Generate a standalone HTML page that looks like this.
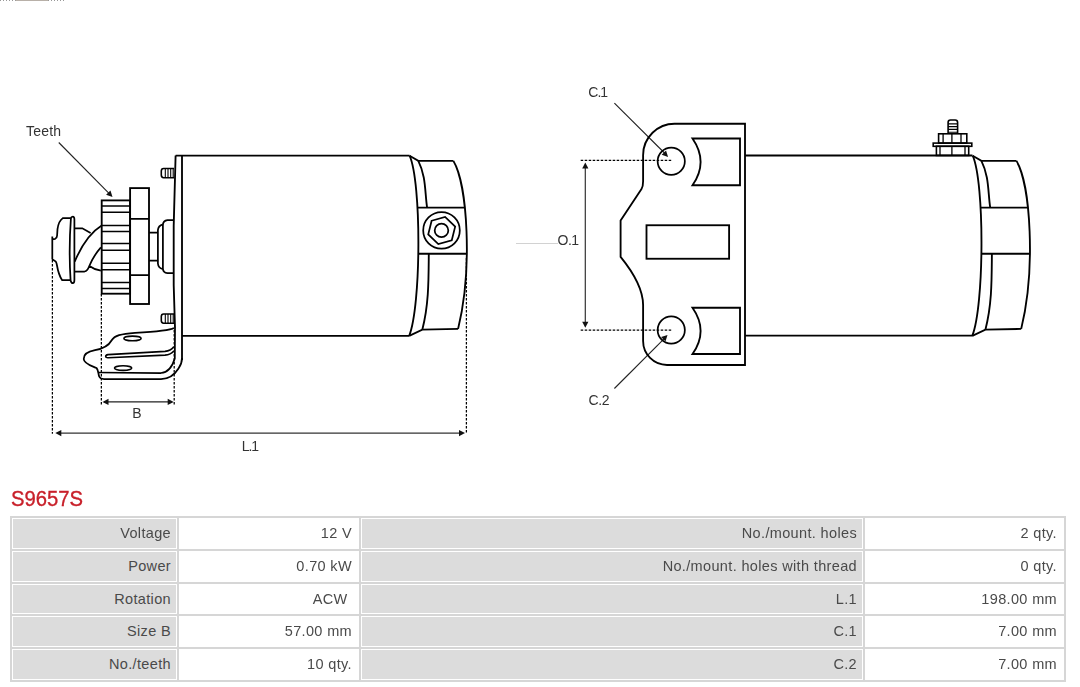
<!DOCTYPE html>
<html><head><meta charset="utf-8">
<style>
html,body{margin:0;padding:0;background:#fff;width:1080px;height:687px;overflow:hidden;position:relative}
#wrap{position:absolute;left:0;top:0;width:1080px;height:687px;opacity:0.999}
svg{position:absolute;left:0;top:0}
.lbl{font-family:"Liberation Sans",sans-serif;font-size:14px;fill:#333}
.title{position:absolute;left:10.6px;top:486px;-webkit-text-stroke:0.35px #c8202a;font-family:"Liberation Sans",sans-serif;font-size:22.5px;line-height:26px;color:#c8202a;white-space:nowrap;transform:scaleX(0.9);transform-origin:0 0}
.tbg{position:absolute;left:10px;top:516px;width:1056px;height:166px;background:#d6d6d6}
.c{position:absolute;border:1px solid #fff;box-sizing:content-box;font-family:"Liberation Sans",sans-serif;font-size:14.5px;color:#4a4a4a;text-align:right;padding:0 6px 0 0;box-sizing:border-box;white-space:nowrap;letter-spacing:0.35px}
.lab{padding-right:5px}
.lab{background:#dcdcdc}
.val{background:#fff}
</style></head><body><div id="wrap">
<svg width="1080" height="687" viewBox="0 0 1080 687">
<text x="26" y="136" class="lbl" style="font-size:14px;letter-spacing:0.2px">Teeth</text>
<line x1="58.75" y1="142.5" x2="109" y2="193.3" stroke="#222" stroke-width="1.1"/>
<polygon points="112.50,196.90 106.08,194.81 110.49,190.45" fill="#111"/>
<rect x="101.7" y="200.4" width="28.4" height="93.3" stroke="#000" fill="none" stroke-width="1.85"/>
<path d="M101.7,205.9 H130 M101.7,212.3 H130 M101.7,225.4 H130 M101.7,231.4 H130 M101.7,243.5 H130 M101.7,250.2 H130 M101.7,263.3 H130 M101.7,269.75 H130 M101.7,282.4 H130 M101.7,288.5 H130" stroke="#000" fill="none" stroke-width="1.5"/>
<rect x="130.1" y="188.1" width="18.9" height="115.9" stroke="#000" fill="none" stroke-width="1.85"/>
<path d="M130,218.75 H149 M130,275 H149" stroke="#000" fill="none" stroke-width="1.75"/>
<path d="M149,232.6 H157.9 M149,260.6 H157.9" stroke="#000" fill="none" stroke-width="1.75"/>
<path d="M162.9,224.3 Q158.3,225.5 157.9,230 V263.5 Q158.3,268 162.9,269.2" stroke="#000" fill="none" stroke-width="1.75"/>
<path d="M173.6,220.2 H167.5 Q163,220.8 162.9,225 V268.5 Q163,272.6 167.5,273.2 H173.6" stroke="#000" fill="none" stroke-width="1.75"/>
<path d="M52.3,236.5 V259.5 M52.3,239.4 L55.2,238.8 Q57,238 57.1,235.5 L57.5,229.2 Q58.6,221 62.8,218.15 L70.9,218.15 M52.3,259.3 L55.8,261.6 Q56.6,263 57,265.5 Q58.6,275 62.2,280.2 L70.6,280.2" stroke="#000" fill="none" stroke-width="1.75"/>
<path d="M70.9,218.5 Q68.6,249.5 70.6,280.5 Q71.3,283.2 72.8,283.2 Q74.4,283 74.4,280 V219.5 Q74.4,216.7 72.8,216.7 Q71.2,216.7 70.9,218.5 Z" stroke="#000" fill="none" stroke-width="1.75"/>
<path d="M74.7,228.3 H82.3 L90.6,233 M74.7,261.6 Q86,235.2 101.7,225.6 M74.7,271.5 H84.6 Q87.5,271 89.3,266 Q94,255 100.9,247.3 M89.3,266 Q94,269.5 100.9,270.6" stroke="#000" fill="none" stroke-width="1.75"/>
<path d="M174,168.5 H163.6 Q161.3,168.5 161.3,171.1 V175.1 Q161.3,177.7 163.6,177.7 H174" stroke="#000" fill="none" stroke-width="1.6"/>
<path d="M165.3,168.5 V177.7 M168.0,168.5 V177.7 M170.7,168.5 V177.7 M173.2,168.5 V177.7" stroke="#000" fill="none" stroke-width="1.1"/>
<path d="M174,314.0 H163.6 Q161.3,314.0 161.3,316.6 V320.6 Q161.3,323.2 163.6,323.2 H174" stroke="#000" fill="none" stroke-width="1.6"/>
<path d="M165.3,314.0 V323.2 M168.0,314.0 V323.2 M170.7,314.0 V323.2 M173.2,314.0 V323.2" stroke="#000" fill="none" stroke-width="1.1"/>
<path d="M175.6,155.6 H409.6 M182,335.8 H409.2" stroke="#000" fill="none" stroke-width="1.85"/>
<path d="M175.6,155.6 L173.7,226 V285 L175,328" stroke="#000" fill="none" stroke-width="1.85"/>
<path d="M182,155.6 V360" stroke="#000" fill="none" stroke-width="1.85"/>
<path d="M174,328 C170,330.5 150,332 135,332.8 C121,333.8 114.5,335.5 111.5,340.5 C108.5,346 104,348.5 95,350.2 C87,351.6 83.6,354.5 83.7,359 C84,364 92,366 96.5,368 C98.5,369.8 98.2,374 99.2,376.5 C100,378.6 101.5,379 104,379 L161,379 C168,379 174.5,375 178.5,368.5 C181,365 182,362 182,358" stroke="#000" fill="none" stroke-width="1.75"/>
<path d="M98.2,372.5 L161,373 C167,372.6 172.2,367 174.8,358.5 L175,328" stroke="#000" fill="none" stroke-width="1.75"/>
<path d="M173.8,346.8 C171.5,349.8 169,351 165,351.4 L108,354.6 C104.8,355.1 105,358 108.2,357.7 L165,355.1 C169,354.8 172,353.2 173.8,351" stroke="#000" fill="none" stroke-width="1.6"/>
<ellipse cx="132.5" cy="338.4" rx="8.6" ry="2.3" stroke="#000" fill="none" stroke-width="1.6"/>
<ellipse cx="123.1" cy="368.1" rx="8.6" ry="2.3" stroke="#000" fill="none" stroke-width="1.6"/>
<g transform="translate(0,0)"><path d="M409.6,155.7 L418.3,160.9 H453.4 M409.2,335.8 L422.3,329.7 L458.1,328.9" stroke="#000" fill="none" stroke-width="1.85"/><path d="M409.6,155.7 C421.6,183 421.15,305.4 409.2,335.85" stroke="#000" fill="none" stroke-width="1.85"/><path d="M418.3,160.9 C426.14,176.47 424.76,192.03 427.1,207.6 M428.8,253.7 C428.57,279.03 428.93,304.37 422.3,329.7" stroke="#000" fill="none" stroke-width="1.85"/><path d="M453.4,160.9 C467.43,184.54 472.75,268.74 458.1,328.9" stroke="#000" fill="none" stroke-width="1.85"/><path d="M417.5,207.6 H464.6 M418.3,253.7 H466.4" stroke="#000" fill="none" stroke-width="1.85"/><circle cx="441.5" cy="230.4" r="18.3" stroke="#000" fill="none" stroke-width="1.75"/><polygon points="431.63,220.77 445.09,216.92 455.16,226.64 451.77,240.23 438.31,244.08 428.24,234.36" stroke="#000" fill="none" stroke-width="1.75"/><circle cx="441.5" cy="230.4" r="6.8" stroke="#000" fill="none" stroke-width="1.75"/></g>
<path d="M52.4,260 V433.8 M101.35,294 V405.6 M466.4,258 V433" stroke="#000" stroke-width="1.25" stroke-dasharray="2.6 1.4" fill="none"/>
<path d="M174.2,330 V405" stroke="#000" stroke-width="1.25" stroke-dasharray="2.6 1.4" fill="none"/>
<line x1="104" y1="401.9" x2="172" y2="401.9" stroke="#222" stroke-width="1.2"/>
<polygon points="102.50,401.90 108.50,398.80 108.50,405.00" fill="#111"/>
<polygon points="173.70,401.90 167.70,405.00 167.70,398.80" fill="#111"/>
<text x="132.2" y="417.8" class="lbl">B</text>
<line x1="57" y1="433.1" x2="463" y2="433.1" stroke="#333" stroke-width="1.3"/>
<polygon points="55.30,433.10 61.30,430.00 61.30,436.20" fill="#111"/>
<polygon points="465.00,433.10 459.00,436.20 459.00,430.00" fill="#111"/>
<text x="241.8" y="450.6" class="lbl" style="letter-spacing:-1.1px">L.1</text>
<text x="588.3" y="96.9" class="lbl" style="letter-spacing:-1px">C.1</text>
<line x1="614.4" y1="103.1" x2="665" y2="153.5" stroke="#222" stroke-width="1.1"/>
<polygon points="668.10,156.90 661.67,154.84 666.06,150.46" fill="#111"/>
<text x="588.6" y="404.8" class="lbl" style="letter-spacing:-0.4px">C.2</text>
<line x1="614.4" y1="388.5" x2="664.5" y2="338.3" stroke="#222" stroke-width="1.1"/>
<polygon points="667.50,335.00 665.47,341.44 661.07,337.07" fill="#111"/>
<path d="M675.4,123.75 H745 V365 H667 A24,24 0 0 1 643.1,341 V305 C643,285 628,266 620.6,256.9 V220.6 L641.5,189 Q643.1,186.5 643.1,181.25 V155.5 A31.5,31.5 0 0 1 675.4,123.75 Z" stroke="#000" fill="none" stroke-width="1.85"/>
<circle cx="671.25" cy="161.25" r="13.6" stroke="#000" fill="none" stroke-width="1.75"/>
<circle cx="671.25" cy="330" r="13.6" stroke="#000" fill="none" stroke-width="1.75"/>
<path d="M692.5,138.5 H740 V185.25 H692.5 Q708.7,161.9 692.5,138.5 Z M692.5,307.75 H740 V354 H692.5 Q708.7,330.9 692.5,307.75 Z" stroke="#000" fill="none" stroke-width="1.85"/>
<rect x="646.5" y="225.25" width="82.6" height="33.5" stroke="#000" fill="none" stroke-width="1.85"/>
<path d="M580.7,160.4 H671.25 M580.7,330.2 H671.25" stroke="#000" stroke-width="1.3" stroke-dasharray="2.5 1.5" fill="none"/>
<line x1="585.3" y1="166" x2="585.3" y2="323" stroke="#333" stroke-width="1.2"/>
<polygon points="585.30,162.60 588.40,168.60 582.20,168.60" fill="#111"/>
<polygon points="585.30,327.70 582.20,321.70 588.40,321.70" fill="#111"/>
<line x1="516" y1="243.5" x2="558" y2="243.5" stroke="#d2d2d2" stroke-width="1"/>
<text x="557.5" y="244.8" class="lbl" style="letter-spacing:-0.5px">O.1</text>
<path d="M745,155.5 H972.5 M745,335.6 H972.5" stroke="#000" fill="none" stroke-width="1.85"/>
<g transform="translate(563.1,0)"><path d="M409.6,155.7 L418.3,160.9 H453.4 M409.2,335.8 L422.3,329.7 L458.1,328.9" stroke="#000" fill="none" stroke-width="1.85"/><path d="M409.6,155.7 C421.6,183 421.15,305.4 409.2,335.85" stroke="#000" fill="none" stroke-width="1.85"/><path d="M418.3,160.9 C426.14,176.47 424.76,192.03 427.1,207.6 M428.8,253.7 C428.57,279.03 428.93,304.37 422.3,329.7" stroke="#000" fill="none" stroke-width="1.85"/><path d="M453.4,160.9 C467.43,184.54 472.75,268.74 458.1,328.9" stroke="#000" fill="none" stroke-width="1.85"/><path d="M417.5,207.6 H464.6 M418.3,253.7 H466.4" stroke="#000" fill="none" stroke-width="1.85"/></g>
<rect x="936.4" y="146.25" width="32.3" height="9.2" stroke="#000" fill="none" stroke-width="1.6"/>
<path d="M940,146.25 V155.4 M951.9,146.25 V155.4 M965,146.25 V155.4" stroke="#000" fill="none" stroke-width="1.3"/>
<rect x="933.2" y="143.1" width="38.6" height="3.2" stroke="#000" fill="none" stroke-width="1.6"/>
<rect x="938.6" y="133.8" width="28.2" height="9.3" stroke="#000" fill="none" stroke-width="1.6"/>
<path d="M943.1,133.8 V143.1 M951.9,133.8 V143.1 M961,133.8 V143.1" stroke="#000" fill="none" stroke-width="1.3"/>
<path d="M948.1,133.8 V122.5 Q948.1,120 950.5,120 H955.2 Q957.6,120 957.6,122.5 V133.8" stroke="#000" fill="none" stroke-width="1.6"/>
<path d="M948.1,123.9 H957.6 M948.1,126.6 H957.6 M948.1,129.4 H957.6 M948.1,132.2 H957.6" stroke="#000" fill="none" stroke-width="1.1"/>
<line x1="0" y1="0.5" x2="16" y2="0.5" stroke="#999" stroke-width="1" stroke-dasharray="1 2"/><line x1="48" y1="0.5" x2="64" y2="0.5" stroke="#999" stroke-width="1" stroke-dasharray="1 2"/><line x1="16" y1="0.5" x2="48" y2="0.5" stroke="#b8b0a8" stroke-width="1"/>
</svg>
<div class="title">S9657S</div>
<div class="tbg"></div>
<div class="c lab" style="left:12px;top:518px;width:165px;height:31px;line-height:29px">Voltage</div>
<div class="c val" style="left:179px;top:518px;width:180px;height:31px;line-height:29px">12 V</div>
<div class="c lab" style="left:361px;top:518px;width:502px;height:31px;line-height:29px">No./mount. holes</div>
<div class="c val" style="left:865px;top:518px;width:199px;height:31px;line-height:29px">2 qty.</div>
<div class="c lab" style="left:12px;top:551px;width:165px;height:31px;line-height:29px">Power</div>
<div class="c val" style="left:179px;top:551px;width:180px;height:31px;line-height:29px">0.70 kW</div>
<div class="c lab" style="left:361px;top:551px;width:502px;height:31px;line-height:29px">No./mount. holes with thread</div>
<div class="c val" style="left:865px;top:551px;width:199px;height:31px;line-height:29px">0 qty.</div>
<div class="c lab" style="left:12px;top:584px;width:165px;height:30px;line-height:28px">Rotation</div>
<div class="c val" style="left:179px;top:584px;width:180px;height:30px;line-height:28px">ACW&nbsp;</div>
<div class="c lab" style="left:361px;top:584px;width:502px;height:30px;line-height:28px">L.1</div>
<div class="c val" style="left:865px;top:584px;width:199px;height:30px;line-height:28px">198.00 mm</div>
<div class="c lab" style="left:12px;top:616px;width:165px;height:31px;line-height:29px">Size B</div>
<div class="c val" style="left:179px;top:616px;width:180px;height:31px;line-height:29px">57.00 mm</div>
<div class="c lab" style="left:361px;top:616px;width:502px;height:31px;line-height:29px">C.1</div>
<div class="c val" style="left:865px;top:616px;width:199px;height:31px;line-height:29px">7.00 mm</div>
<div class="c lab" style="left:12px;top:649px;width:165px;height:31px;line-height:29px">No./teeth</div>
<div class="c val" style="left:179px;top:649px;width:180px;height:31px;line-height:29px">10 qty.</div>
<div class="c lab" style="left:361px;top:649px;width:502px;height:31px;line-height:29px">C.2</div>
<div class="c val" style="left:865px;top:649px;width:199px;height:31px;line-height:29px">7.00 mm</div>
</div></body></html>
